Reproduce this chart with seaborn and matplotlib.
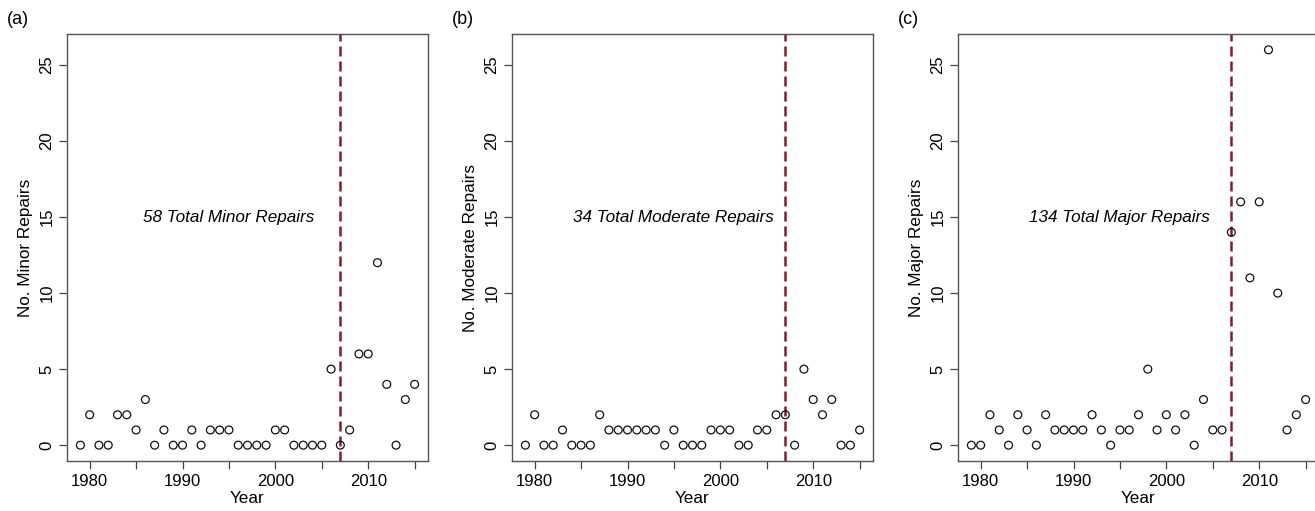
import numpy as np
import pandas as pd
import seaborn as sns
import matplotlib
matplotlib.use("Agg")
import matplotlib.pyplot as plt

years = list(range(1979, 2016))

minor = [0, 2, 0, 0, 2, 2, 1, 3, 0, 1, 0, 0, 1, 0, 1, 1, 1, 0, 0, 0, 0,
         1, 1, 0, 0, 0, 0, 5, 0, 1, 6, 6, 12, 4, 0, 3, 4]
moderate = [0, 2, 0, 0, 1, 0, 0, 0, 2, 1, 1, 1, 1, 1, 1, 0, 1, 0, 0, 0, 1,
            1, 1, 0, 0, 1, 1, 2, 2, 0, 5, 3, 2, 3, 0, 0, 1]
major = [0, 0, 2, 1, 0, 2, 1, 0, 2, 1, 1, 1, 1, 2, 1, 0, 1, 1, 2, 5, 1,
         2, 1, 2, 0, 3, 1, 1, 14, 16, 11, 16, 26, 10, 1, 2, 3]

panel_letters = ["(a)", "(b)", "(c)"]
y_labels = ["No. Minor Repairs", "No. Moderate Repairs", "No. Major Repairs"]
annotations = ["58 Total Minor Repairs", "34 Total Moderate Repairs",
               "134 Total Major Repairs"]
series = [minor, moderate, major]
cutoff_year = 2007

sns.set_theme(style="white")
plt.rcParams['font.family'] = ['Liberation Sans', 'DejaVu Sans']
plt.rcParams['text.color'] = 'black'
plt.rcParams['axes.labelcolor'] = 'black'
plt.rcParams['xtick.color'] = '#444444'
plt.rcParams['ytick.color'] = '#444444'
plt.rcParams['xtick.labelcolor'] = 'black'
plt.rcParams['ytick.labelcolor'] = 'black'

fig = plt.figure(figsize=(13.15, 5.11), dpi=100)
W, H = 1315, 511
lefts = [67, 512, 958]
width = 361
top, bottom = 34, 461

for i in range(3):
    ax = fig.add_axes([lefts[i] / W, 1 - bottom / H, width / W, (bottom - top) / H])
    df = pd.DataFrame({"Year": years, "Count": series[i]})
    sns.scatterplot(data=df, x="Year", y="Count", ax=ax, marker="o",
                    s=32, facecolor="none", edgecolor="#111111", linewidth=0.9,
                    zorder=3)
    ax.axvline(cutoff_year, color="#8B1A2A", linestyle=(0, (4, 2)), linewidth=1.8,
               zorder=2)
    ax.set_xlim(1977.56, 2016.44)
    ax.set_ylim(-1.04, 27.04)
    ax.set_xticks(list(range(1980, 2016, 5)))
    ax.set_xticklabels([str(y) if y % 10 == 0 else "" for y in range(1980, 2016, 5)])
    ax.set_yticks([0, 5, 10, 15, 20, 25])
    ax.set_yticklabels(["0", "5", "10", "15", "20", "25"], rotation=90, va="center")
    ax.tick_params(axis="both", which="major", direction="out", length=6,
                   width=0.9, color="#444444", labelcolor="black",
                   labelsize=12, pad=3, bottom=True, left=True)
    for sp in ax.spines.values():
        sp.set_color("#555555")
        sp.set_linewidth(1.0)
        sp.set_visible(True)
    ax.set_xlabel("Year", fontsize=12.3, labelpad=2, color="black")
    ax.set_ylabel(y_labels[i], fontsize=12.3, labelpad=5, color="black")
    ax.text(1995, 15, annotations[i], ha="center", va="center",
            fontsize=12.3, style="italic", color="black")
    ax.grid(False)
    fig.text((lefts[i] - 60) / W, 1 - 20 / H, panel_letters[i], fontsize=13,
             ha="left", va="center", color="black")

fig.savefig("out.png", dpi=100)
